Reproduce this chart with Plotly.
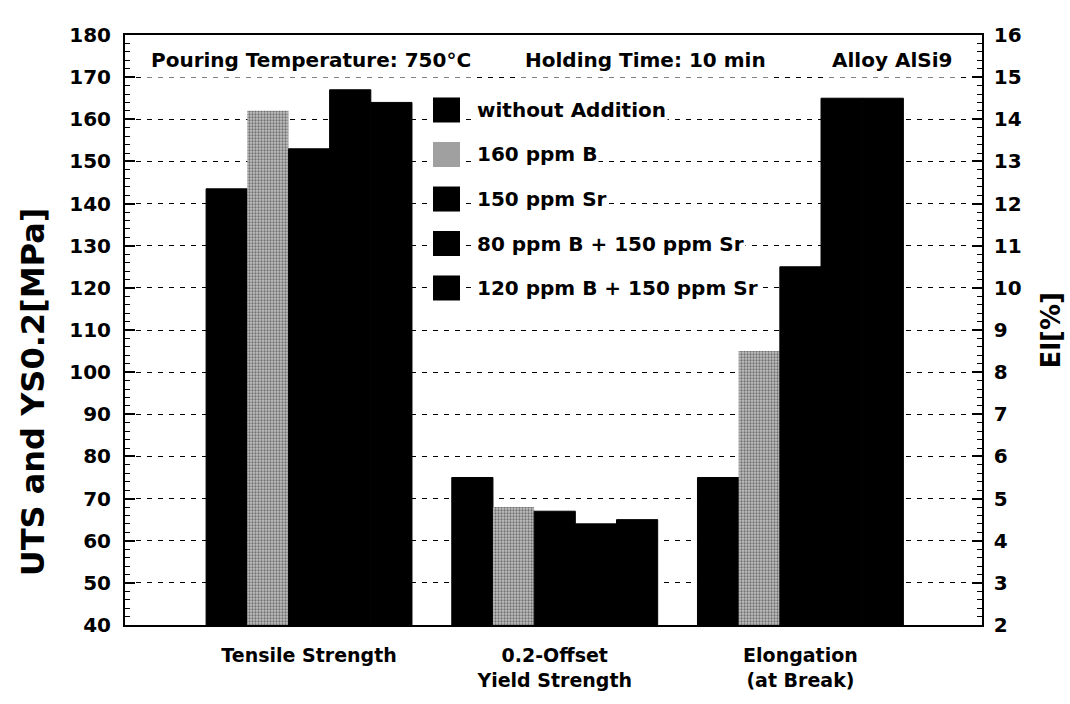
import plotly.graph_objects as go

categories_mpa = ["Tensile Strength", "0.2-Offset<br>Yield Strength"]
category_el = ["Elongation<br>(at Break)"]
all_categories = categories_mpa + category_el

series_names = ["without Addition", "160 ppm B", "150 ppm Sr",
                "80 ppm B + 150 ppm Sr", "120 ppm B + 150 ppm Sr"]
tensile_strength = [143.5, 162, 153, 167, 164]     # MPa
yield_strength = [75, 68, 67, 64, 65]              # MPa
elongation = [5.5, 8.5, 10.5, 14.5, 14.5]          # %

left_ticks = list(range(40, 181, 10))
right_ticks = list(range(2, 17, 1))

FONT = "DejaVu Sans"
GRAY = "160 ppm B"

def bar_marker(name):
    if name == GRAY:
        return dict(color="#a8a8a8",
                    pattern=dict(shape=".", fgcolor="#1e1e1e", bgcolor="#c2c2c2",
                                 size=3, solidity=0.45),
                    line=dict(width=0))
    return dict(color="black", line=dict(width=1, color="black"))

fig = go.Figure()
for i, name in enumerate(series_names):
    fig.add_trace(go.Bar(
        x=categories_mpa, y=[tensile_strength[i], yield_strength[i]],
        name=name, marker=bar_marker(name), showlegend=False,
        yaxis="y", hoverinfo="skip"))
for i, name in enumerate(series_names):
    fig.add_trace(go.Bar(
        x=category_el, y=[elongation[i]],
        name=name, marker=bar_marker(name), showlegend=False,
        yaxis="y2", hoverinfo="skip"))

tickfont = dict(family=FONT, size=20, color="black", weight="bold")

fig.update_layout(
    width=1070, height=704,
    margin=dict(l=125, r=88, t=35, b=79),
    paper_bgcolor="white", plot_bgcolor="white",
    barmode="group", bargap=0.162, bargroupgap=0,
    showlegend=False,
    xaxis=dict(
        type="category", categoryorder="array", categoryarray=all_categories,
        range=[-0.749, 2.739], showline=True, linecolor="black", linewidth=2,
        mirror=True, ticks="", showgrid=False, zeroline=False,
        tickfont=dict(family=FONT, size=19, color="black", weight="bold"),
        ticklabelstandoff=12,
    ),
    yaxis=dict(
        range=[40, 180], tickvals=left_ticks, showline=True, linecolor="black",
        linewidth=2, mirror=True, ticks="inside", ticklen=10, tickwidth=1.5,
        tickcolor="black", showgrid=True, gridcolor="black", gridwidth=1,
        griddash="5px,6px", zeroline=False, tickfont=tickfont,
        ticklabelstandoff=8,
        minor=dict(ticks="inside", ticklen=5, dtick=2, tickcolor="black",
                   tickwidth=1, showgrid=False),
    ),
    yaxis2=dict(
        range=[2, 16], tickvals=right_ticks, overlaying="y", side="right",
        showline=True, linecolor="black", linewidth=1.5, ticks="inside",
        ticklen=10, tickwidth=1.5, tickcolor="black", showgrid=False,
        zeroline=False, tickfont=tickfont, ticklabelstandoff=6,
        minor=dict(ticks="inside", ticklen=5, dtick=0.2, tickcolor="black",
                   tickwidth=1, showgrid=False),
    ),
)

ann_font = dict(family=FONT, size=20, color="black", weight="bold")

# header texts
fig.add_annotation(text="Pouring Temperature: 750°C", xref="paper", yref="paper",
                   x=0.0233, y=0.9576, xanchor="left", yanchor="middle",
                   showarrow=False, font=ann_font, bgcolor="white", borderpad=5)
fig.add_annotation(text="Holding Time: 10 min", xref="paper", yref="paper",
                   x=0.6068, y=0.9576, xanchor="center", yanchor="middle",
                   showarrow=False, font=ann_font, bgcolor="white", borderpad=5)
fig.add_annotation(text="Alloy AlSi9", xref="paper", yref="paper",
                   x=0.972, y=0.9576, xanchor="right", yanchor="middle",
                   showarrow=False, font=ann_font, bgcolor="white", borderpad=5)

# axis titles
fig.add_annotation(text="UTS and YS0.2[MPa]", xref="paper", yref="paper",
                   x=-0.107, y=0.395, xanchor="center", yanchor="middle",
                   textangle=-90, showarrow=False,
                   font=dict(family=FONT, size=32, color="black", weight="bold"))
fig.add_annotation(text="El[%]", xref="paper", yref="paper",
                   x=1.08, y=0.5, xanchor="center", yanchor="middle",
                   textangle=-90, showarrow=False,
                   font=dict(family=FONT, size=26, color="black", weight="bold"))

# manual legend (large square swatches)
row_y = [0.8729, 0.7975, 0.7220, 0.6466, 0.5712]
sw_x0, sw_x1 = 0.3594, 0.3909
sw_h = 0.0212
for name, yy in zip(series_names, row_y):
    fill = "#a0a0a0" if name == GRAY else "black"
    fig.add_shape(type="rect", xref="paper", yref="paper",
                  x0=sw_x0, x1=sw_x1, y0=yy - sw_h, y1=yy + sw_h,
                  fillcolor=fill, line=dict(width=0), layer="above")
    fig.add_annotation(text=name, xref="paper", yref="paper",
                       x=0.4084, y=yy, xanchor="left", yanchor="middle",
                       showarrow=False, font=ann_font, bgcolor="white",
                       borderpad=1)

fig.write_html("out.html")
